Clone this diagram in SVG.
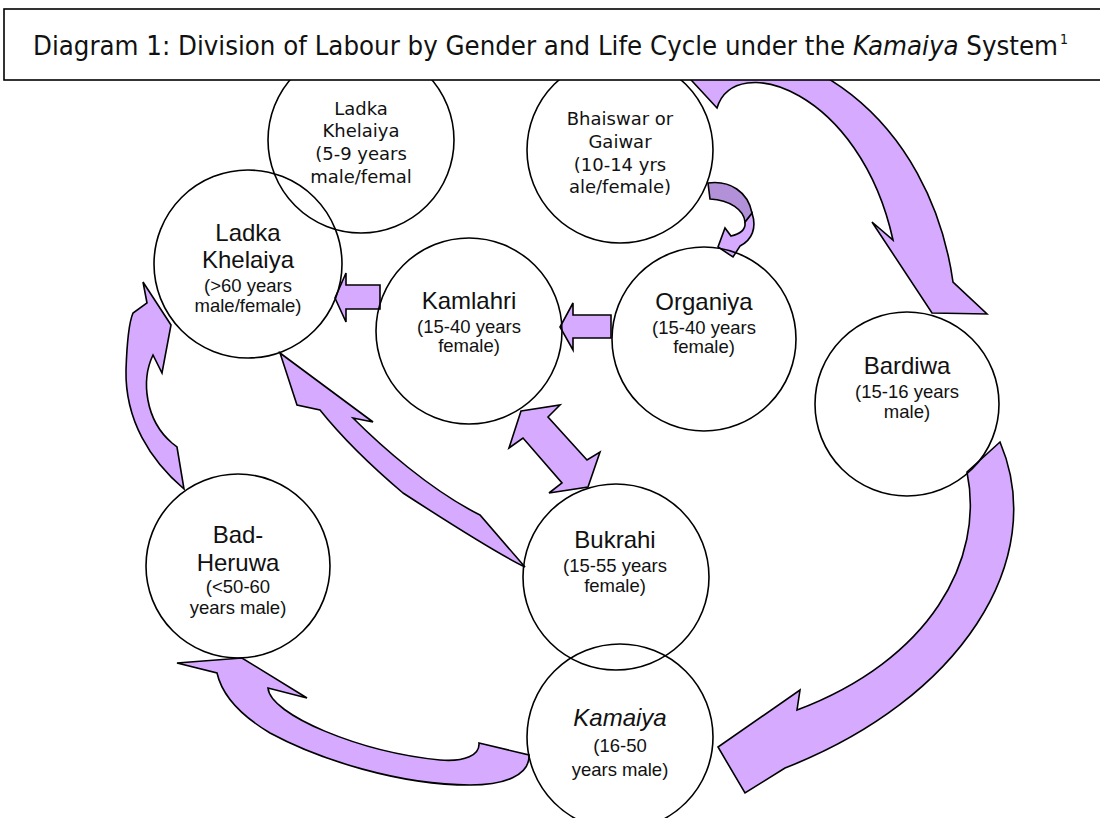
<svg xmlns="http://www.w3.org/2000/svg" width="1100" height="818" viewBox="0 0 1100 818">
<style>
.c{fill:none;stroke:#000;stroke-width:1.6}
.a{fill:#D5AAFF;stroke:#000;stroke-width:1.6;stroke-linejoin:miter}
.ad{fill:#B391D8;stroke:#000;stroke-width:1.6}
.v{font-family:"DejaVu Sans",Verdana,sans-serif;font-size:18px;fill:#111;text-anchor:middle}
.n{font-family:"Liberation Sans",Arial,sans-serif;font-size:24px;fill:#111;text-anchor:middle}
.s{font-family:"Liberation Sans",Arial,sans-serif;font-size:18.5px;fill:#111;text-anchor:middle}
</style>
<rect width="1100" height="818" fill="#fff"/>
<g id="connectors">
<path id="e-bhaiswar-bardiwa" class="a" d="M668,55 L717,108 C735,50 860,90 893,240 L872,222 L932,313 L987,314 L953,282 C930,120 800,20 668,55 Z"/>
<path id="e-bardiwa-kamaiya" class="a" d="M1000,442 L967,472 C985,560 930,660 797,710 L800,690 L718,747 L745,793 L785,768 C960,700 1050,560 1000,442 Z"/>
<path id="e-kamaiya-badheruwa" class="a" d="M177,663 L242,658 L307,698 L268,688 C270,715 360,752 440,760 C465,762 480,755 479,743 L529,755 C530,775 505,785 470,785 C400,785 320,760 270,733 C240,715 222,695 217,673 Z"/>
<path id="e-badheruwa-ladka60" class="a" d="M143,282 L171,325 L162,373 L153,355 C141,380 145,420 172,443 L177,447 L184,489 C150,460 125,420 126,370 C127,340 130,320 133,313 L147,303 Z"/>
<path id="e-bukrahi-ladka60" class="a" d="M280,353 L373,422 L353,418 C380,445 430,490 480,515 L525,567 C500,555 460,530 403,493 C370,465 340,435 320,410 L297,405 Z"/>
<path id="e-kamlahri-bukrahi" class="a" d="M521,411 L560,405 L548,417 L587,460 L600,452 L588,487 L549,493 L562,483 L523,438 L509,448 Z"/>
<path id="e-organiya-kamlahri" class="a" d="M611,315 L573,315 L573,303 L560,327 L573,350 L573,338 L611,338 Z"/>
<path id="e-kamlahri-ladka60" class="a" d="M380,285 L346,285 L346,273 L335,298 L346,322 L346,309 L380,309 Z"/>
<path id="e-bhaiswar-organiya-b" class="a" d="M752,213 C757,228 752,240 740,246 L733,257 L718,247 L725,228 L731,236 C740,234 746,230 745,222 Z"/>
<path id="e-bhaiswar-organiya-t" class="ad" d="M708,183 C730,180 748,192 752,213 L745,222 C744,210 730,200 710,199 Z"/>
</g>
<g id="n-ladka59">
<circle class="c" cx="361" cy="140" r="93"/>
<text class="v" x="361" y="115">Ladka</text>
<text class="v" x="361" y="137">Khelaiya</text>
<text class="v" x="361" y="160">(5-9 years</text>
<text class="v" x="361" y="183">male/femal</text>
</g>
<g id="n-bhaiswar">
<circle class="c" cx="620" cy="150" r="93"/>
<text class="v" x="620" y="125">Bhaiswar or</text>
<text class="v" x="620" y="148">Gaiwar</text>
<text class="v" x="620" y="171">(10-14 yrs</text>
<text class="v" x="620" y="193">ale/female)</text>
</g>
<g id="n-ladka60">
<circle class="c" cx="248" cy="264" r="94"/>
<text class="n" x="248" y="241">Ladka</text>
<text class="n" x="248" y="268">Khelaiya</text>
<text class="s" x="248" y="292">(&gt;60 years</text>
<text class="s" x="248" y="312">male/female)</text>
</g>
<g id="n-kamlahri">
<circle class="c" cx="469" cy="331" r="93"/>
<text class="n" x="469" y="309">Kamlahri</text>
<text class="s" x="469" y="333">(15-40 years</text>
<text class="s" x="469" y="352">female)</text>
</g>
<g id="n-organiya">
<circle class="c" cx="704" cy="339" r="92"/>
<text class="n" x="704" y="310">Organiya</text>
<text class="s" x="704" y="334">(15-40 years</text>
<text class="s" x="704" y="353">female)</text>
</g>
<g id="n-bardiwa">
<circle class="c" cx="907" cy="404" r="92"/>
<text class="n" x="907" y="374">Bardiwa</text>
<text class="s" x="907" y="398">(15-16 years</text>
<text class="s" x="907" y="418">male)</text>
</g>
<g id="n-badheruwa">
<circle class="c" cx="238" cy="566" r="92"/>
<text class="n" x="238" y="543">Bad-</text>
<text class="n" x="238" y="571">Heruwa</text>
<text class="s" x="238" y="593">(&lt;50-60</text>
<text class="s" x="238" y="614">years male)</text>
</g>
<g id="n-bukrahi">
<circle class="c" cx="616" cy="577" r="93"/>
<text class="n" x="615" y="548">Bukrahi</text>
<text class="s" x="615" y="572">(15-55 years</text>
<text class="s" x="615" y="592">female)</text>
</g>
<g id="n-kamaiya">
<circle class="c" cx="620" cy="737" r="93"/>
<text class="n" x="620" y="726" font-size="26" font-style="italic">Kamaiya</text>
<text class="s" x="620" y="752" font-size="21">(16-50</text>
<text class="s" x="620" y="776" font-size="21">years male)</text>
</g>
<g id="title">
<rect x="4" y="9" width="1100" height="71" fill="#fff" stroke="#000" stroke-width="1.6"/>
<text x="33" y="55" font-family="'DejaVu Sans Condensed','DejaVu Sans',sans-serif" font-size="26" fill="#111" textLength="1025" lengthAdjust="spacingAndGlyphs">Diagram 1: Division of Labour by Gender and Life Cycle under the <tspan font-style="italic">Kamaiya</tspan> System</text>
<text x="1060" y="44" font-family="'DejaVu Sans Condensed','DejaVu Sans',sans-serif" font-size="14" fill="#111">1</text>
</g>
</svg>
